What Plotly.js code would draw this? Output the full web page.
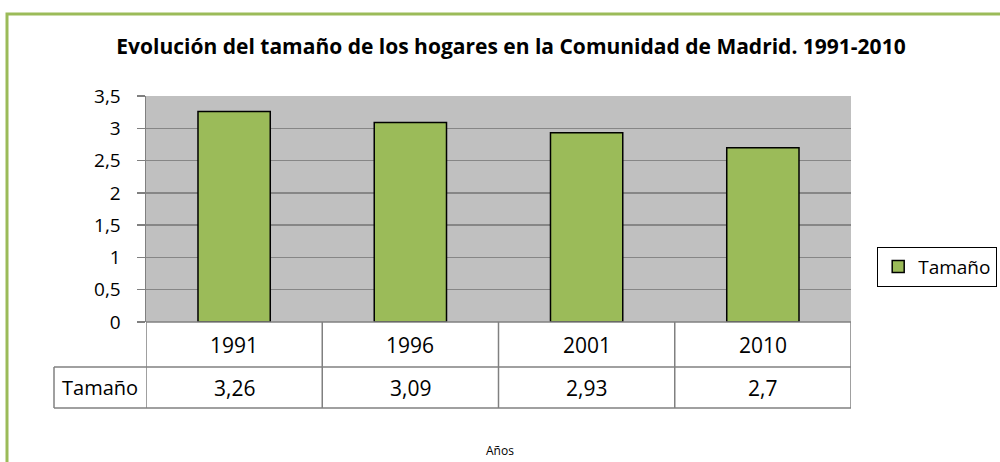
<!DOCTYPE html>
<html><head><meta charset="utf-8">
<script src="https://cdn.plot.ly/plotly-3.0.1.min.js"></script>
<style>html,body{margin:0;padding:0;background:#fff}#chart{width:1000px;height:462px}</style>
</head><body><div id="chart"></div>
<script>
const categories = ['1991', '1996', '2001', '2010'];
const tamano = [3.26, 3.09, 2.93, 2.7];
const seriesName = 'Tamaño';
const yTicks = [0, 0.5, 1, 1.5, 2, 2.5, 3, 3.5];

const FONT = 'Open Sans, Noto Sans, sans-serif';
const fmt = v => String(v).replace('.', ',');

const L = 146, R = 851, T = 96, B = 322, W = 1000, H = 462;
const pw = R - L, ph = B - T;
const px = x => (x - L) / pw;
const py = y => (B - y) / ph;

const row1Bottom = py(367), row2Bottom = py(408);
const gridCol = '#808080';
const shapes = [];
// green outer frame
shapes.push({type:'rect', xref:'paper', yref:'paper', x0:px(7), x1:px(1100), y0:py(600), y1:py(14),
  line:{color:'#9BBB59', width:3}, fillcolor:'rgba(0,0,0,0)', layer:'below'});
// table horizontal lines
shapes.push({type:'line', xref:'paper', yref:'paper', x0:0, x1:1, y0:0, y1:0, line:{color:gridCol, width:1.5}});
shapes.push({type:'line', xref:'paper', yref:'paper', x0:px(54), x1:1, y0:row1Bottom, y1:row1Bottom, line:{color:gridCol, width:1.5}});
shapes.push({type:'line', xref:'paper', yref:'paper', x0:px(54), x1:1, y0:row2Bottom, y1:row2Bottom, line:{color:gridCol, width:1.5}});
shapes.push({type:'line', xref:'paper', yref:'paper', x0:px(54), x1:px(54), y0:row1Bottom, y1:row2Bottom, line:{color:gridCol, width:1.5}});
// table vertical lines at category boundaries
for (let i = 0; i <= categories.length; i++) {
  shapes.push({type:'line', xref:'x', yref:'paper', x0:i - 0.5, x1:i - 0.5, y0:0, y1:row2Bottom, line:{color:gridCol, width:1.5}});
}

const annotations = [];
categories.forEach((c, i) => {
  annotations.push({xref:'x', yref:'paper', x:i, y:(0 + row1Bottom) / 2, text:c, showarrow:false,
    font:{family:FONT, size:21, color:'#000'}, xanchor:'center', yanchor:'middle'});
  annotations.push({xref:'x', yref:'paper', x:i, y:(row1Bottom + row2Bottom) / 2, text:fmt(tamano[i]), showarrow:false,
    font:{family:FONT, size:21, color:'#000'}, xanchor:'center', yanchor:'middle'});
});
annotations.push({xref:'paper', yref:'paper', x:(px(54) + 0) / 2, y:(row1Bottom + row2Bottom) / 2, text:seriesName, showarrow:false,
  font:{family:FONT, size:20, color:'#000'}, xanchor:'center', yanchor:'middle'});
annotations.push({xref:'paper', yref:'paper', x:px(500), y:py(450), text:'Años', showarrow:false,
  font:{family:FONT, size:12, color:'#000'}, xanchor:'center', yanchor:'middle'});

const data = [{
  type:'bar', x:categories, y:tamano, name:seriesName, width:0.41,
  marker:{color:'#9BBB59', line:{color:'#000', width:1.5}}, hoverinfo:'none'
}];

const layout = {
  width:W, height:H, separators:',.',
  margin:{l:L, r:W - R, t:T, b:H - B, pad:0, autoexpand:false},
  paper_bgcolor:'#fff', plot_bgcolor:'#C0C0C0',
  title:{text:'<b>Evolución del tamaño de los hogares en la Comunidad de Madrid. 1991-2010</b>',
    font:{family:FONT, size:21, color:'#000'}, x:0.511, xanchor:'center', y:1 - 47 / H, yanchor:'middle'},
  showlegend:true,
  legend:{x:px(997), xanchor:'right', y:py(267), yanchor:'middle', bordercolor:'#000', borderwidth:1.2,
    bgcolor:'#fff', font:{family:FONT, size:19, color:'#000'}, itemwidth:30},
  xaxis:{type:'category', showticklabels:false, showgrid:false, ticks:'', showline:false, zeroline:false,
    range:[-0.5, categories.length - 0.5], fixedrange:true},
  yaxis:{range:[0, 3.5], tickvals:yTicks, ticks:'outside', ticklen:8, tickcolor:gridCol, tickwidth:1.5,
    showline:true, linecolor:gridCol, linewidth:1.5, gridcolor:'#868686', gridwidth:1.5, zeroline:false,
    tickfont:{family:FONT, size:19, color:'#000'}, ticklabelstandoff:12, fixedrange:true, automargin:false},
  shapes:shapes, annotations:annotations
};

Plotly.newPlot('chart', data, layout, {displayModeBar:false, staticPlot:true});
</script></body></html>
